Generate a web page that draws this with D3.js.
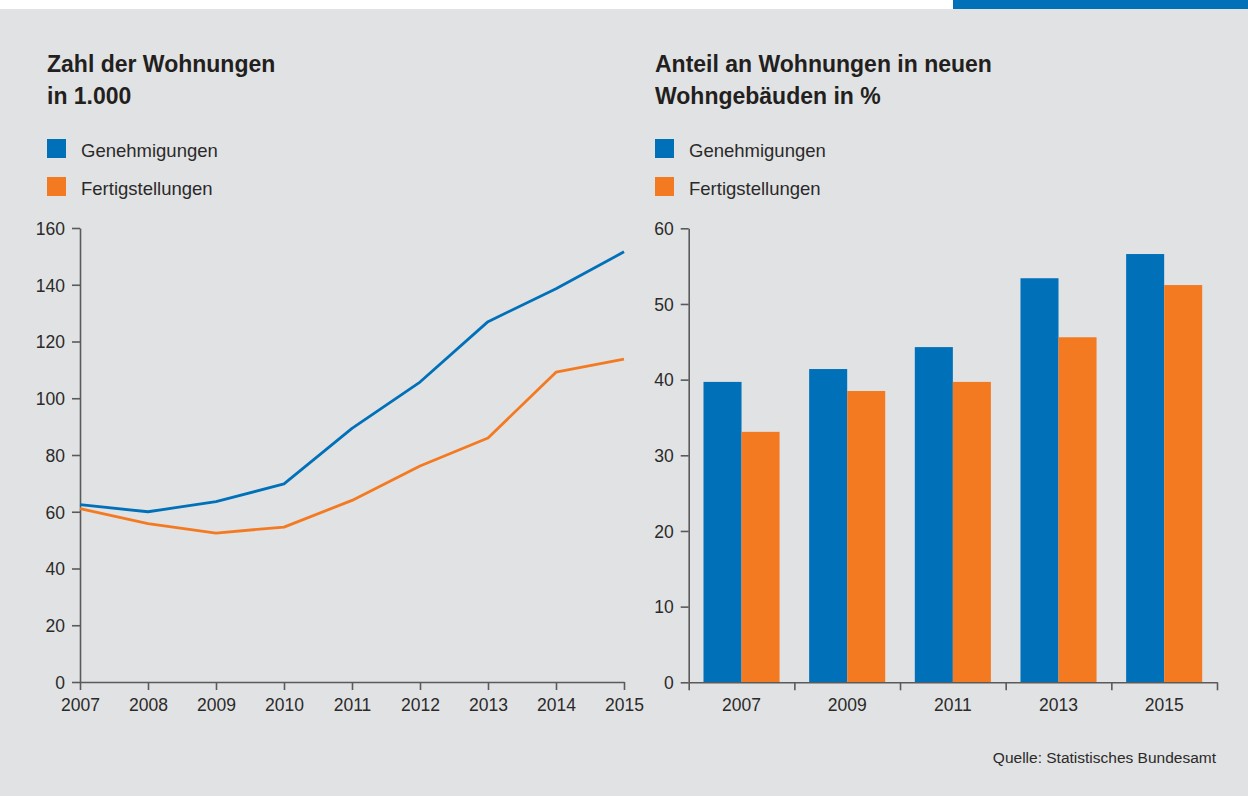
<!DOCTYPE html>
<html>
<head>
<meta charset="utf-8">
<script src="https://cdn.jsdelivr.net/npm/d3@7"></script>
<style>
  html, body { margin: 0; padding: 0; background: #ffffff; }
  svg { display: block; font-family: "Liberation Sans", Arial, sans-serif; }
  .axis text { font-size: 17.5px; fill: #2b2a29; }
  .axis path, .axis line { stroke: #5a5a5a; stroke-width: 1.6; }
</style>
</head>
<body>
<svg id="chart" width="1248" height="796"></svg>
<script>
// ---- data -------------------------------------------------------------
const lineYears = [2007, 2008, 2009, 2010, 2011, 2012, 2013, 2014, 2015];
const genehmigungen = [62.5, 60, 63.6, 69.8, 89.4, 105.7, 127, 138.6, 151.6];
const fertigstellungen = [61.1, 55.8, 52.5, 54.6, 64, 76.1, 86, 109.2, 113.8];

const barYears = ["2007", "2009", "2011", "2013", "2015"];
const anteilGenehmigungen = [39.7, 41.4, 44.3, 53.4, 56.6];
const anteilFertigstellungen = [33.1, 38.5, 39.7, 45.6, 52.5];

const seriesNames = ["Genehmigungen", "Fertigstellungen"];
const seriesColors = ["#0071b9", "#f47a22"];

const leftTitle = ["Zahl der Wohnungen", "in 1.000"];
const rightTitle = ["Anteil an Wohnungen in neuen", "Wohngebäuden in %"];
const source = "Quelle: Statistisches Bundesamt";

// ---- frame ------------------------------------------------------------
const svg = d3.select("#chart");
svg.append("rect").attr("x", 0).attr("y", 9).attr("width", 1248).attr("height", 787).attr("fill", "#e1e2e4");
svg.append("rect").attr("x", 953).attr("y", 0).attr("width", 295).attr("height", 9).attr("fill", "#0071b9");

// titles + legends
const drawHeader = (x, lines) => {
    svg.append("text")
        .attr("x", x).attr("y", 72)
        .style("font-size", "23px").style("font-weight", "bold").attr("fill", "#231f20")
        .selectAll("tspan").data(lines).enter().append("tspan")
        .attr("x", x).attr("dy", (d, i) => i === 0 ? 0 : 31.5)
        .text(d => d);

    const leg = svg.append("g").attr("transform", `translate(${x},0)`);
    seriesNames.forEach((name, i) => {
        leg.append("rect").attr("x", 0).attr("y", 139 + i * 38).attr("width", 19).attr("height", 19)
            .attr("fill", seriesColors[i]);
        leg.append("text").attr("x", 34).attr("y", 157 + i * 38)
            .style("font-size", "18.5px").attr("fill", "#2b2a29").text(name);
    });
};
drawHeader(47, leftTitle);
drawHeader(655, rightTitle);

// ---- left: line chart -------------------------------------------------
const lx = d3.scaleLinear().domain([2007, 2015]).range([80, 624]);
const ly = d3.scaleLinear().domain([0, 160]).range([682, 228]);

svg.append("g").attr("class", "axis")
    .attr("transform", "translate(80,0)")
    .call(d3.axisLeft(ly).tickValues(d3.range(0, 161, 20)).tickSize(8).tickSizeOuter(0).tickPadding(7))
    .selectAll("text").attr("dy", "0.36em");

svg.append("g").attr("class", "axis")
    .attr("transform", "translate(0,682)")
    .call(d3.axisBottom(lx).tickValues(lineYears).tickFormat(d3.format("d")).tickSize(8).tickSizeOuter(0).tickPadding(4))
    .selectAll("text").attr("dy", "0.95em");

const line = d3.line().x((d, i) => lx(lineYears[i])).y(d => ly(d));
[genehmigungen, fertigstellungen].forEach((vals, i) => {
    svg.append("path").datum(vals)
        .attr("fill", "none")
        .attr("stroke", seriesColors[i])
        .attr("stroke-width", 2.8)
        .attr("stroke-linejoin", "round")
        .attr("d", line);
});

// ---- right: bar chart -------------------------------------------------
const bx = d3.scaleBand().domain(barYears).range([688.7, 1217]).paddingInner(0.28).paddingOuter(0.14);
const bInner = d3.scaleBand().domain(seriesNames).range([0, bx.bandwidth()]);
const by = d3.scaleLinear().domain([0, 60]).range([682.3, 228.3]);
const bEdges = d3.scaleLinear().domain([0, barYears.length]).range([688.7, 1217]);

svg.append("g").attr("class", "axis")
    .attr("transform", "translate(688.7,0)")
    .call(d3.axisLeft(by).tickValues(d3.range(0, 61, 10)).tickSize(8).tickSizeOuter(0).tickPadding(7))
    .selectAll("text").attr("dy", "0.36em");

const groups = svg.append("g").selectAll("g")
    .data(barYears).enter().append("g")
    .attr("transform", d => `translate(${bx(d)},0)`);

groups.selectAll("rect")
    .data((d, i) => [anteilGenehmigungen[i], anteilFertigstellungen[i]].map((v, j) => ({ key: seriesNames[j], v, j })))
    .enter().append("rect")
    .attr("x", d => bInner(d.key))
    .attr("width", bInner.bandwidth())
    .attr("y", d => by(d.v))
    .attr("height", d => by(0) - by(d.v))
    .attr("fill", d => seriesColors[d.j]);

// boundary ticks
svg.append("g").attr("class", "axis")
    .attr("transform", "translate(0,682.3)")
    .call(d3.axisBottom(bEdges).tickValues(d3.range(0, barYears.length + 1)).tickFormat("").tickSize(8).tickSizeOuter(0));

// category labels
const labAxis = svg.append("g").attr("class", "axis")
    .attr("transform", "translate(0,682.3)")
    .call(d3.axisBottom(bx).tickSize(0).tickPadding(12));
labAxis.select(".domain").remove();
labAxis.selectAll("text").attr("dy", "0.95em");

// source
svg.append("text").attr("x", 1216).attr("y", 763).attr("text-anchor", "end")
    .style("font-size", "15.5px").attr("fill", "#2b2a29").text(source);
</script>
</body>
</html>
